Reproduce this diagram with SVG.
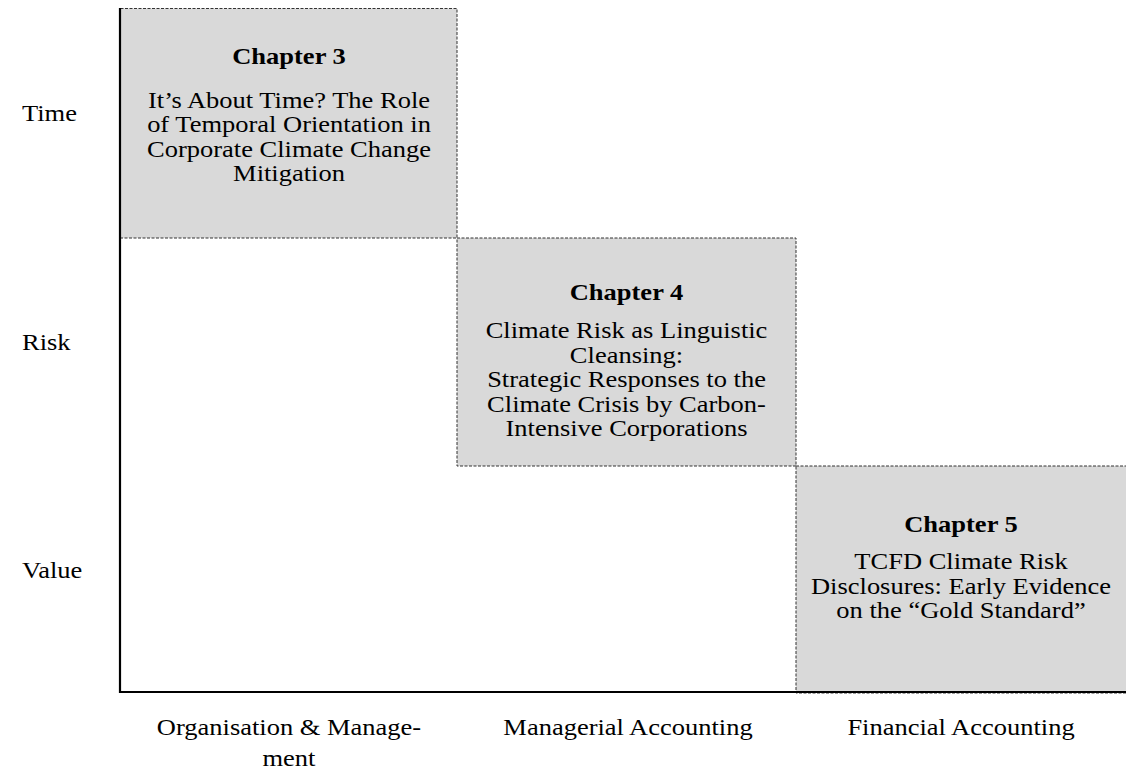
<svg xmlns="http://www.w3.org/2000/svg" width="1126" height="772" viewBox="0 0 1126 772">
<style>
.box{fill:#d9d9d9;stroke:#333;stroke-width:1;stroke-dasharray:3 1.5}
.t{font-family:'Liberation Serif','DejaVu Serif',serif;font-size:23px;fill:#000}
.c{text-anchor:middle}
.b{font-weight:bold}
.axis{stroke:#000;stroke-width:2.2;fill:none}
</style>
<g id="ch3">
<rect class="box" x="120.5" y="8.5" width="336.5" height="229.5"/>
<g transform="matrix(1.152 0 0 1 289 0)">
<text class="t c b" x="0" y="64">Chapter 3</text>
<text class="t c" x="0" y="108">It’s About Time? The Role</text>
<text class="t c" x="0" y="132.5">of Temporal Orientation in</text>
<text class="t c" x="0" y="157">Corporate Climate Change</text>
<text class="t c" x="0" y="181.5">Mitigation</text>
</g>
</g>
<g id="ch4">
<rect class="box" x="457" y="238" width="339" height="228"/>
<g transform="matrix(1.152 0 0 1 626.5 0)">
<text class="t c b" x="0" y="300">Chapter 4</text>
<text class="t c" x="0" y="338.5">Climate Risk as Linguistic</text>
<text class="t c" x="0" y="363">Cleansing:</text>
<text class="t c" x="0" y="387.5">Strategic Responses to the</text>
<text class="t c" x="0" y="412">Climate Crisis by Carbon-</text>
<text class="t c" x="0" y="436.5">Intensive Corporations</text>
</g>
</g>
<g id="ch5">
<rect class="box" x="796" y="466" width="335" height="227"/>
<g transform="matrix(1.152 0 0 1 961 0)">
<text class="t c b" x="0" y="532">Chapter 5</text>
<text class="t c" x="0" y="569.5">TCFD Climate Risk</text>
<text class="t c" x="0" y="594">Disclosures: Early Evidence</text>
<text class="t c" x="0" y="618.5">on the “Gold Standard”</text>
</g>
</g>
<g id="axes">
<line class="axis" x1="120" y1="8" x2="120" y2="693"/>
<line class="axis" x1="119" y1="692" x2="1126" y2="692"/>
</g>
<g id="ylabels" transform="matrix(1.152 0 0 1 22 0)">
<text class="t" x="0" y="121">Time</text>
<text class="t" x="0" y="350">Risk</text>
<text class="t" x="0" y="578">Value</text>
</g>
<g id="xlabels">
<g transform="matrix(1.152 0 0 1 289 0)">
<text class="t c" x="0" y="735">Organisation &amp; Manage-</text>
<text class="t c" x="0" y="766">ment</text>
</g>
<g transform="matrix(1.152 0 0 1 628 0)">
<text class="t c" x="0" y="735">Managerial Accounting</text>
</g>
<g transform="matrix(1.152 0 0 1 961 0)">
<text class="t c" x="0" y="735">Financial Accounting</text>
</g>
</g>
</svg>
